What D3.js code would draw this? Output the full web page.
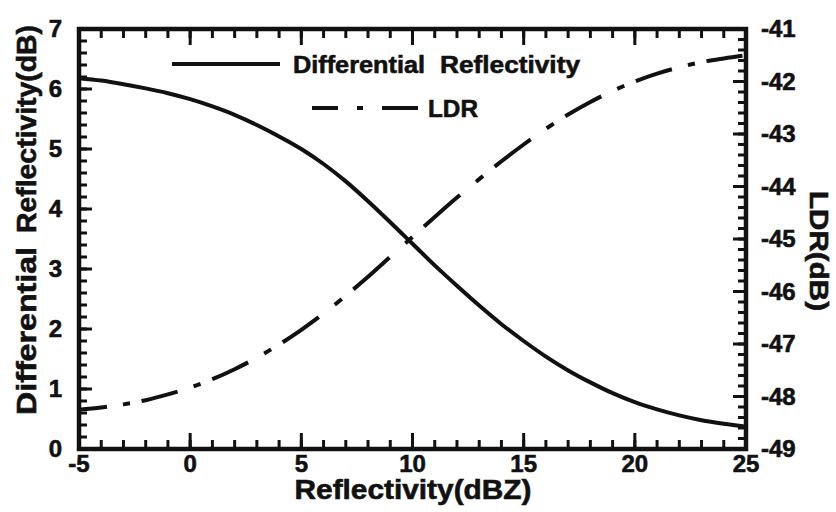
<!DOCTYPE html>
<html>
<head>
<meta charset="utf-8">
<script src="https://cdn.jsdelivr.net/npm/d3@7"></script>
<style>
  body { margin: 0; background: #fff; }
  svg { display: block; }
  text { font-family: "Liberation Sans", Arial, sans-serif; font-weight: bold; fill: #111; stroke: #111; stroke-width: 0.6px; }
</style>
</head>
<body>
<svg id="chart" width="836" height="512"></svg>
<script>
// Radar reflectivity (dBZ) sample points
const reflectivity = [-5, -4, -3, -2, -1, 0, 1, 2, 3, 4, 5, 6, 7, 8, 9, 10,
                      11, 12, 13, 14, 15, 16, 17, 18, 19, 20, 21, 22, 23, 24, 25];
// Differential reflectivity ZDR (dB), left axis
const zdr = [6.18, 6.14, 6.08, 6.01, 5.93, 5.83, 5.71, 5.57, 5.40, 5.21, 5.00,
             4.75, 4.46, 4.13, 3.78, 3.42, 3.06, 2.72, 2.39, 2.08, 1.80,
             1.54, 1.31, 1.11, 0.93, 0.78, 0.66, 0.56, 0.48, 0.42, 0.37];
// Linear depolarization ratio LDR (dB), right axis
const ldr = [-48.25, -48.21, -48.15, -48.07, -47.96, -47.83, -47.67, -47.48, -47.26, -47.01, -46.73,
             -46.42, -46.08, -45.72, -45.34, -44.96, -44.58, -44.21, -43.86, -43.52, -43.20,
             -42.90, -42.63, -42.39, -42.18, -42.00, -41.85, -41.73, -41.63, -41.56, -41.50];

// Tick labels
const xTicks = [-5, 0, 5, 10, 15, 20, 25];
const zdrTicks = [0, 1, 2, 3, 4, 5, 6, 7];
const ldrTicks = [-49, -48, -47, -46, -45, -44, -43, -42, -41];

const svg = d3.select("#chart");
const L = 79, R = 746, T = 29, B = 449;
const INK = "#111";

const x = d3.scaleLinear().domain([-5, 25]).range([L, R]);
const yL = d3.scaleLinear().domain([0, 7]).range([B, T]);
const yR = d3.scaleLinear().domain([-49, -41]).range([B, T]);

const minorX = d3.range(-5, 25.01, 1);
const minorL = d3.range(0, 7.001, 0.2);
const minorR = d3.range(-49, -40.999, 0.2);

// Inward ticks on all four sides of the frame
const ticks = svg.append("g").attr("stroke", INK).attr("stroke-width", 3);
function hTicks(vals, y0, dir, len) {
  ticks.append("g").selectAll("line").data(vals).join("line")
    .attr("x1", d => x(d)).attr("x2", d => x(d))
    .attr("y1", y0).attr("y2", y0 + dir * len);
}
function vTicks(vals, scale, x0, dir, len) {
  ticks.append("g").selectAll("line").data(vals).join("line")
    .attr("y1", d => scale(d)).attr("y2", d => scale(d))
    .attr("x1", x0).attr("x2", x0 + dir * len);
}
hTicks(minorX, B, -1, 9);
hTicks(xTicks, B, -1, 16);
hTicks(minorX, T, 1, 9);
hTicks(xTicks, T, 1, 16);
vTicks(minorL, yL, L, 1, 8);
vTicks(zdrTicks, yL, L, 1, 13);
vTicks(minorR, yR, R, -1, 8);
vTicks(ldrTicks, yR, R, -1, 13);

// Tick labels
svg.append("g").selectAll("text").data(xTicks).join("text")
  .attr("x", d => x(d)).attr("y", B + 23).attr("text-anchor", "middle")
  .attr("font-size", 24).text(d => String(d));
svg.append("g").selectAll("text").data(zdrTicks).join("text")
  .attr("x", L - 17).attr("y", d => yL(d) + 8).attr("text-anchor", "end")
  .attr("font-size", 24).text(d => String(d));
svg.append("g").selectAll("text").data(ldrTicks).join("text")
  .attr("x", R + 15).attr("y", d => yR(d) + 8).attr("text-anchor", "start")
  .attr("font-size", 24).text(d => String(d));

// Plot frame
svg.append("rect").attr("x", L).attr("y", T).attr("width", R - L).attr("height", B - T)
  .attr("fill", "none").attr("stroke", INK).attr("stroke-width", 4.5);

// ZDR curve (solid)
const zdrLine = d3.line().x((d, i) => x(reflectivity[i])).y(d => yL(d)).curve(d3.curveMonotoneX);
svg.append("path").datum(zdr).attr("d", zdrLine)
  .attr("fill", "none").attr("stroke", INK).attr("stroke-width", 4);

// LDR curve (dash-dot, pattern laid out along the reflectivity axis)
const ldrLine = d3.line().x((d, i) => x(reflectivity[i])).y(d => yR(d)).curve(d3.curveMonotoneX);
const ldrPath = svg.append("path").datum(ldr).attr("d", ldrLine)
  .attr("fill", "none").attr("stroke", INK).attr("stroke-width", 4);

(function applyDashes() {
  const node = ldrPath.node();
  const total = node.getTotalLength();
  const lenAtX = px => {
    let lo = 0, hi = total;
    for (let k = 0; k < 30; k++) {
      const mid = (lo + hi) / 2;
      if (node.getPointAtLength(mid).x < px) lo = mid; else hi = mid;
    }
    return (lo + hi) / 2;
  };
  const period = 70.6, start = 71;
  const pieces = [[0, 36], [52, 59]];
  const on = [];
  for (let x0 = start - period; x0 < R; x0 += period) {
    pieces.forEach(([a, b]) => {
      const s = Math.max(L, x0 + a), e = Math.min(R, x0 + b);
      if (e > s) on.push([lenAtX(s), lenAtX(e)]);
    });
  }
  const dash = [0, on[0][0]];
  for (let i = 0; i < on.length; i++) {
    dash.push(on[i][1] - on[i][0]);
    const next = i + 1 < on.length ? on[i + 1][0] : total + 100;
    dash.push(next - on[i][1]);
  }
  ldrPath.attr("stroke-dasharray", dash.map(v => v.toFixed(2)).join(","));
})();

// Legend
const legend = svg.append("g");
legend.append("line").attr("x1", 172).attr("x2", 280).attr("y1", 64).attr("y2", 64)
  .attr("stroke", INK).attr("stroke-width", 4);
legend.append("text").attr("x", 293).attr("y", 73).attr("font-size", 24)
  .attr("textLength", 132).attr("lengthAdjust", "spacingAndGlyphs")
  .text("Differential");
legend.append("text").attr("x", 440).attr("y", 73).attr("font-size", 24)
  .attr("textLength", 140).attr("lengthAdjust", "spacingAndGlyphs")
  .text("Reflectivity");
[[312, 338], [357, 363], [382, 418]].forEach(([a, b]) => {
  legend.append("line").attr("x1", a).attr("x2", b).attr("y1", 108).attr("y2", 108)
    .attr("stroke", INK).attr("stroke-width", 4);
});
legend.append("text").attr("x", 428).attr("y", 117).attr("font-size", 24)
  .attr("textLength", 50).attr("lengthAdjust", "spacingAndGlyphs")
  .text("LDR");

// Axis titles
svg.append("text").attr("x", 413).attr("y", 499).attr("text-anchor", "middle")
  .attr("font-size", 27).attr("textLength", 237).attr("lengthAdjust", "spacingAndGlyphs")
  .text("Reflectivity(dBZ)");
svg.append("text").attr("transform", "translate(36,331) rotate(-90)").attr("text-anchor", "middle")
  .attr("font-size", 27).attr("textLength", 168).attr("lengthAdjust", "spacingAndGlyphs")
  .text("Differential");
svg.append("text").attr("transform", "translate(36,129) rotate(-90)").attr("text-anchor", "middle")
  .attr("font-size", 27).attr("textLength", 208).attr("lengthAdjust", "spacingAndGlyphs")
  .text("Reflectivity(dB)");
svg.append("text").attr("transform", "translate(810,251) rotate(90)").attr("text-anchor", "middle")
  .attr("font-size", 25).attr("textLength", 120).attr("lengthAdjust", "spacingAndGlyphs")
  .text("LDR(dB)");
</script>
</body>
</html>
